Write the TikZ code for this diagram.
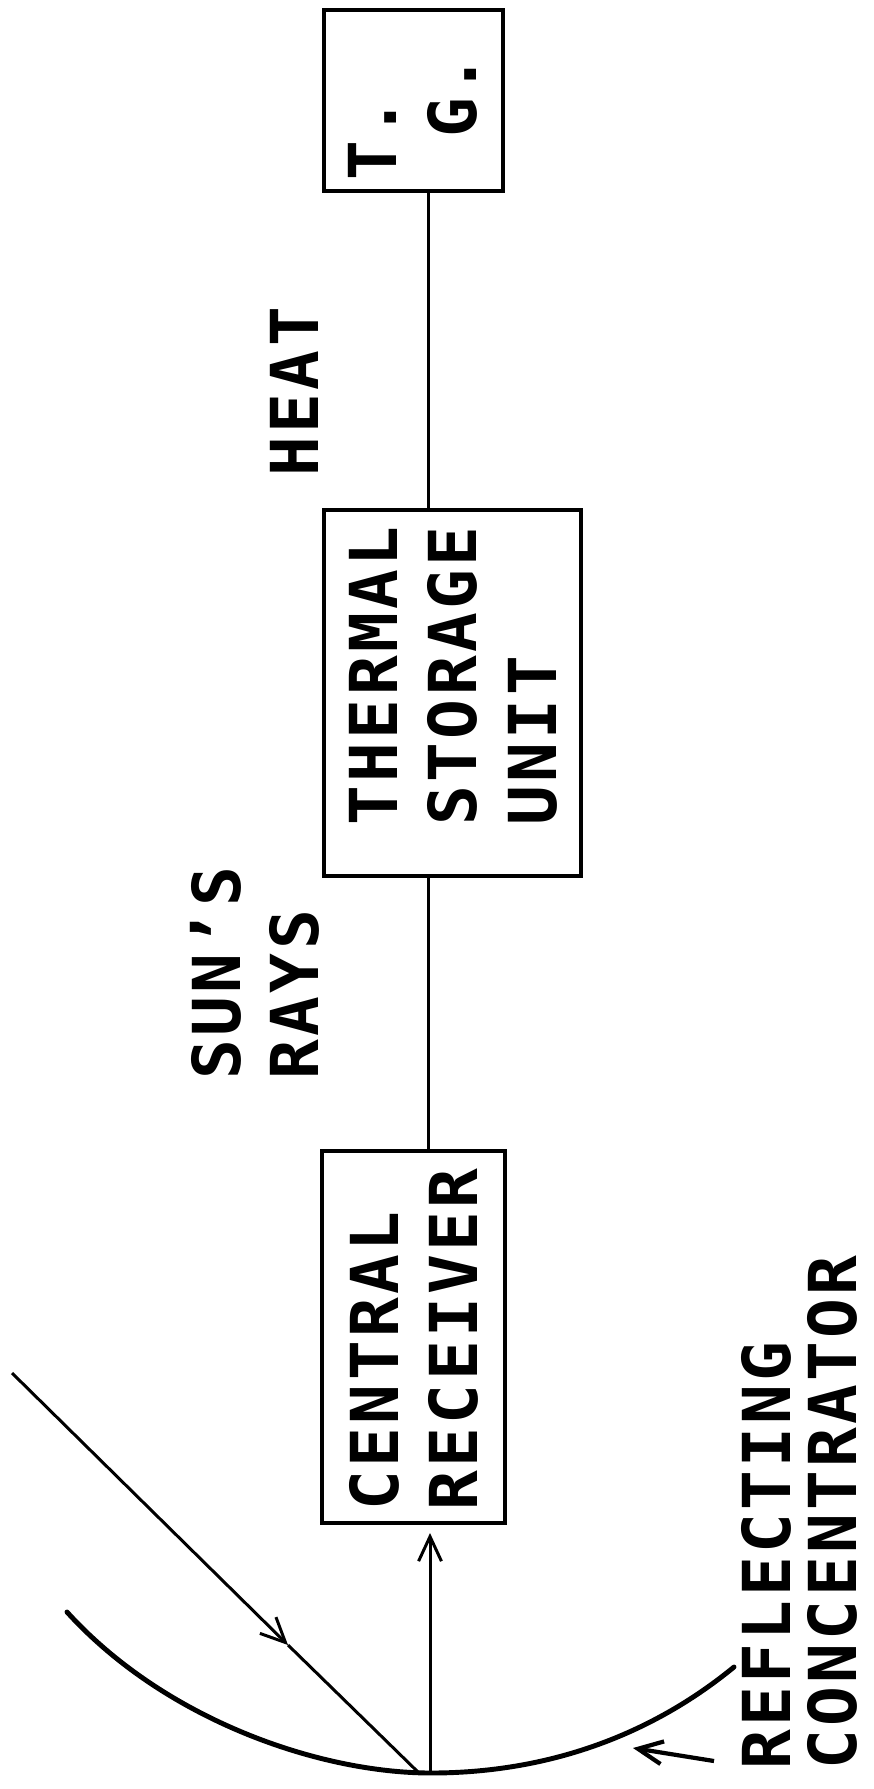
\documentclass[tikz,border=0pt]{standalone}
\usepackage{fontspec}
\usetikzlibrary{arrows.meta,calc}
\newfontfamily\plotfont[LetterSpace=5]{DejaVu Sans Mono Bold}
\tikzset{
  plotlabel/.style={rotate=90,inner sep=0pt,align=left,font=\plotfont\fontsize{18.8}{22.6}\selectfont},
  plantbox/.style={draw,line width=1.1pt,rotate=90,inner sep=0pt},
  linkline/.style={line width=0.85pt},
  rayline/.style={line width=0.85pt,-{Straight Barb[length=7pt,width=6.5pt]}},
  dishline/.style={line width=1.4pt,line cap=round}
}
\begin{document}
\begin{tikzpicture}[x=0.01cm,y=-0.01cm]
\useasboundingbox (0,0) rectangle (874,1789);
% boxes, top to bottom
\node[plantbox,minimum width=1.81cm,minimum height=1.79cm] (tgbox) at (413.5,100.5) {};
\node[plantbox,minimum width=3.66cm,minimum height=2.57cm] (thermalbox) at (452.5,693) {};
\node[plantbox,minimum width=3.72cm,minimum height=1.83cm] (centralbox) at (413.5,1337) {};
% text in the boxes
\node[plotlabel,anchor=west] (tgtext) at (413,181) {T.\\~G.};
\node[plotlabel,anchor=west] (thermaltext) at (453,826) {THERMAL\\STORAGE\\UNIT};
\node[plotlabel,anchor=west] (centraltext) at (414,1511) {CENTRAL\\RECEIVER};
% links between the boxes
\coordinate (linkx) at (428,0);
\draw[linkline] (linkx |- tgbox.west) -- (linkx |- thermalbox.east);
\draw[linkline] (linkx |- thermalbox.west) -- (linkx |- centralbox.east);
% labels
\node[plotlabel,anchor=south west] (heatlabel) at (319,477) {HEAT};
\node[plotlabel,anchor=south west] (sunlabel) at (242,1080) {SUN’S};
\node[plotlabel,anchor=south west] (rayslabel) at (320,1080) {RAYS};
\node[plotlabel,anchor=south west] (refllabel) at (792,1770) {REFLECTING};
\node[plotlabel,anchor=south west] (conclabel) at (858,1770) {CONCENTRATOR};
% concentrator dish
\draw[dishline] (67,1612) .. controls (165,1720) and (320,1773) .. (431,1773)
  .. controls (540,1773) and (645,1740) .. (734,1667);
% incoming and reflected ray
\coordinate (raystart) at (12,1373);
\coordinate (raymid) at (288,1645);
\coordinate (rayfoot) at (418,1772);
\coordinate (upfoot) at (430,1773);
\coordinate (uptip) at (430,1533);
\draw[rayline] (raystart) -- (raymid);
\draw[linkline] (raymid) -- (rayfoot);
\draw[rayline] (upfoot) -- (uptip);
% pointer to the dish
\coordinate (pointstart) at (714,1761);
\coordinate (pointtip) at (633,1748);
\draw[rayline,line width=1.2pt] (pointstart) -- (pointtip);
\end{tikzpicture}
\end{document}
